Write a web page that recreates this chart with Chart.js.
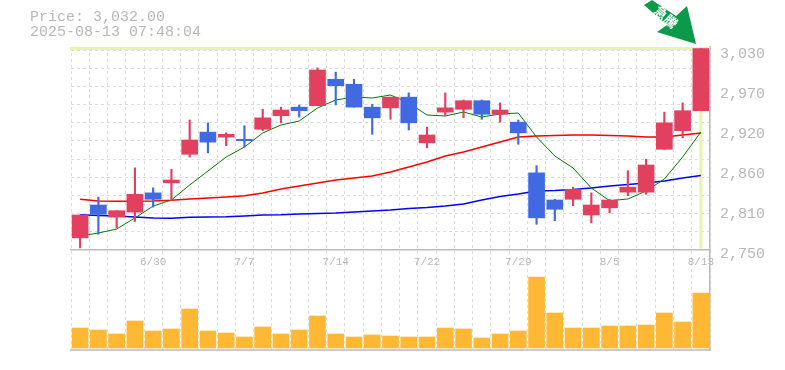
<!DOCTYPE html>
<html>
<head>
<meta charset="utf-8">
<title>Price chart</title>
<script src="https://cdn.jsdelivr.net/npm/chart.js@4"></script>
<style>
  body { margin: 0; background: #fff; }
  #wrap { position: relative; width: 785px; height: 370px; overflow: hidden; }
  #head { position: absolute; left: 30px; top: 10px; font: 15px/15px "Liberation Mono", monospace; color: #b8b8b8; white-space: pre; }
  canvas { display: block; }
</style>
</head>
<body>
<div id="wrap">
  <canvas id="chart" width="785" height="370"></canvas>
  <div id="head">Price: 3,032.00
2025-08-13 07:48:04</div>
</div>
<script>
const days = ["6/24","6/25","6/26","6/27","6/30","7/1","7/2","7/3","7/4","7/7","7/8","7/9","7/10","7/11","7/14","7/15","7/16","7/17","7/18","7/22","7/23","7/24","7/25","7/28","7/29","7/30","7/31","8/1","8/4","8/5","8/6","8/7","8/8","8/12","8/13"];
const dayLabels = ["6/30","7/7","7/14","7/22","7/29","8/5","8/13"];
const priceTicks = [2750,2806,2862,2918,2974,3030];

const opens  = [2767,2813,2796,2803,2830,2844,2884,2915,2908,2905,2919,2938,2950,2952,2989,2982,2950,2949,2964,2900,2943,2947,2959,2940,2929,2858,2820,2821,2799,2809,2831,2831,2891,2917,2945];
const closes = [2799,2800,2805,2828,2821,2848,2904,2901,2912,2903,2935,2946,2945,3002,2980,2950,2935,2964,2928,2911,2949,2959,2940,2946,2914,2795,2807,2835,2813,2820,2838,2869,2928,2945,3032];
const highs  = [2799,2824,2805,2865,2837,2863,2932,2928,2914,2924,2947,2950,2953,3005,2999,2989,2954,2964,2970,2922,2970,2960,2960,2956,2932,2868,2821,2838,2830,2821,2861,2877,2943,2956,3032];
const lows   = [2753,2772,2781,2790,2810,2819,2880,2886,2896,2894,2917,2928,2936,2952,2953,2950,2912,2933,2918,2893,2938,2935,2933,2929,2898,2786,2791,2812,2788,2802,2826,2828,2891,2907,2945];

const ma5  = [2769.6,2773.8,2779.4,2794.8,2811.6,2820,2841,2860.6,2880.2,2894.2,2913.8,2925,2930.6,2948.8,2960,2964.2,2962.8,2967,2955.8,2939,2937.6,2943.2,2936.2,2940.4,2941.8,2908.2,2881.6,2864.8,2836.8,2819,2821.4,2832.6,2849.4,2880.2,2915.2];
const ma25 = [2821,2818.6,2818.2,2818.2,2818.6,2819.6,2821.4,2822.8,2824.2,2826,2829.8,2835.4,2839.6,2843.8,2848,2850.8,2853.6,2859.2,2866.2,2873.2,2881.6,2887.2,2894.2,2901.2,2908.2,2909.6,2910.3,2911,2911,2910.3,2909.6,2908.2,2908.2,2911,2913.8];
const ma75 = [2799.4,2798.3,2797.6,2796.2,2794.8,2794.4,2795.8,2796.2,2796.6,2797.6,2799,2799.4,2800.4,2801.1,2801.8,2803.2,2804.6,2806,2808.1,2809.5,2811.6,2814.4,2820,2824.9,2828.4,2832.6,2833.3,2834.7,2836.8,2839.6,2841.7,2843.8,2846.6,2850.8,2854.3];
const volumes = [20,18,14,27,17,19,39,17,15,11,21,14,18,32,14,11,13,12,11,11,20,19,10,14,17,71,35,20,20,22,22,23,35,26,55];

const UP = "#e2405f";
const DOWN = "#4169e1";
const GRID = "#dddddd";
const AXIS = "#bbbbbb";
const TEXT = "#b8b8b8";
const MONO = "Liberation Mono";

const candleColors = closes.map((c, i) => (c >= opens[i] ? UP : DOWN));

// last price marker, separator under the volumes, and the arrow
const overlay = {
  id: "overlay",
  beforeDatasetsDraw(chart) {
    const { ctx, scales, chartArea } = chart;
    const last = closes[closes.length - 1];
    const x = scales.x.getPixelForValue(days.length - 1);
    const y = scales.y.getPixelForValue(last);
    ctx.save();
    ctx.strokeStyle = "#e6f5a8";
    ctx.lineWidth = 3;
    ctx.beginPath();
    ctx.moveTo(chartArea.left - 1, y);
    ctx.lineTo(chartArea.right, y);
    ctx.moveTo(x, y);
    ctx.lineTo(x, scales.y.getPixelForValue(2752));
    ctx.stroke();
    ctx.strokeStyle = AXIS;
    ctx.lineWidth = 1.5;
    ctx.beginPath();
    ctx.moveTo(chartArea.left - 1, chartArea.bottom);
    ctx.lineTo(chartArea.right + 1, chartArea.bottom);
    ctx.stroke();
    ctx.restore();
  },
  afterDraw(chart) {
    const { ctx } = chart;
    ctx.save();
    ctx.fillStyle = "#0a9a4a";
    ctx.beginPath();
    ctx.moveTo(644, 5);
    ctx.lineTo(652, 0);
    ctx.lineTo(676, 16);
    ctx.lineTo(687, 6);
    ctx.lineTo(696, 44);
    ctx.lineTo(657, 32);
    ctx.lineTo(667, 25);
    ctx.closePath();
    ctx.fill();
    ctx.translate(666, 17);
    ctx.rotate(Math.PI * 0.23);
    ctx.fillStyle = "#fff";
    ctx.font = 'bold 13px "Noto Sans CJK JP"';
    ctx.textAlign = "center";
    ctx.textBaseline = "middle";
    ctx.fillText("急騰", 0, 0);
    ctx.restore();
  },
};

new Chart(document.getElementById("chart"), {
  type: "bar",
  plugins: [overlay],
  data: {
    labels: days,
    datasets: [
      { data: opens.map((o, i) => [o, closes[i]]), backgroundColor: candleColors, barThickness: 16, grouped: false, order: 1 },
      { data: lows.map((l, i) => [l, highs[i]]), backgroundColor: candleColors, barThickness: 1.5, grouped: false, order: 2 },
      { type: "line", data: ma5, borderColor: "#007a00", borderWidth: 1, pointRadius: 0, order: 3 },
      { type: "line", data: ma25, borderColor: "#ff0000", borderWidth: 1.5, pointRadius: 0, order: 4 },
      { type: "line", data: ma75, borderColor: "#0000ff", borderWidth: 1.5, pointRadius: 0, order: 5 },
      { data: volumes, yAxisID: "vol", backgroundColor: "#ffb833", barThickness: 16, grouped: false, order: 6 },
    ],
  },
  options: {
    responsive: false,
    animation: false,
    layout: { padding: { top: 47, left: 71, right: 0, bottom: 20 } },
    plugins: { legend: { display: false }, tooltip: { enabled: false } },
    scales: {
      x: {
        position: { y: 2750 },
        offset: true,
        grid: { offset: true, color: GRID, drawTicks: false },
        border: { color: AXIS, width: 1.5, dash: [3, 3] },
        ticks: {
          autoSkip: false,
          maxRotation: 0,
          padding: 5,
          color: TEXT,
          font: { family: MONO, size: 11 },
          callback(v) {
            const d = days[v];
            return dayLabels.includes(d) ? d : "";
          },
        },
      },
      y: {
        position: "right",
        min: 2610,
        max: 3034.2,
        grid: { display: false },
        border: { color: AXIS, width: 1.5 },
        afterBuildTicks(axis) { axis.ticks = priceTicks.map((value) => ({ value })); },
        afterFit(axis) { axis.width = 75; },
        ticks: {
          padding: 2,
          labelOffset: 4,
          color: TEXT,
          font: { family: MONO, size: 15 },
          callback(v) { return (Math.round(v / 10) * 10).toLocaleString("en-US"); },
        },
      },
      // horizontal dashed lines do not follow the price labels
      rows: {
        position: "left",
        min: 2610,
        max: 3034.2,
        grid: { color: GRID, drawTicks: false },
        border: { display: false, dash: [3, 3] },
        afterBuildTicks(axis) {
          const rows = [];
          for (let i = 0; i <= 11; i++) rows.push({ value: 2750 + i * 25.45 });
          axis.ticks = rows;
        },
        afterFit(axis) { axis.width = 0; },
        ticks: { display: false },
      },
      vol: { display: false, min: -2, max: 301 },
    },
  },
});
</script>
</body>
</html>
